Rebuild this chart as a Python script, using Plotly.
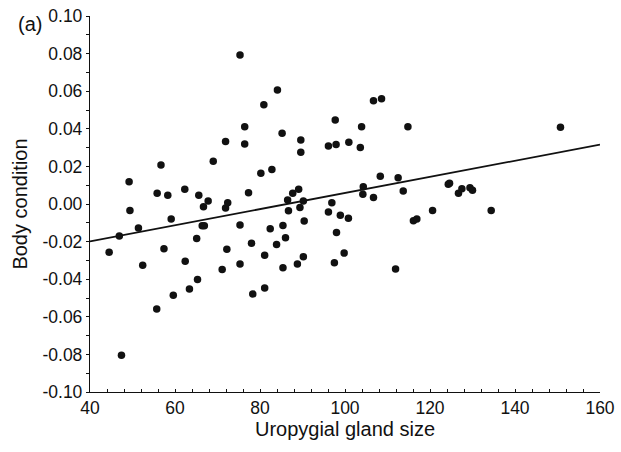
import plotly.graph_objects as go

gland_size = [49.2, 49.4, 51.4, 56.7, 55.8, 58.3, 59.1, 62.3, 65.6, 66.7, 67.8, 66.4, 66.9,
              69.0, 71.9, 71.9, 72.4, 75.3, 76.4, 76.4, 77.3, 75.3, 80.2, 80.9, 82.8, 82.4,
              84.1, 85.2, 85.4, 86.5, 86.7, 87.7, 89.1, 89.6, 89.6, 89.4, 90.2, 90.4, 96.1,
              97.9, 97.7, 96.9, 96.1, 98.9, 44.5, 46.9, 47.4, 52.4, 55.7, 57.4, 59.6, 62.4,
              63.4, 65.1, 65.3, 71.1, 72.2, 75.3, 78.0, 78.3, 81.1, 81.1, 83.9, 86.0, 85.4,
              88.8, 90.2, 98.0, 97.5, 106.7, 108.6, 100.9, 103.9, 103.6, 114.8, 150.7, 108.3,
              112.5, 104.3, 104.2, 106.7, 113.7, 124.3, 124.6, 126.7, 127.5, 129.4, 130.0,
              120.6, 134.4, 116.1, 116.9, 100.8, 99.8, 111.9]
body_condition = [0.0119, -0.0034, -0.0128, 0.0207, 0.0057, 0.0046, -0.0080, 0.0078, 0.0046,
                  -0.0014, 0.0016, -0.0116, -0.0116, 0.0227, 0.0333, -0.0021, 0.0007, 0.0793,
                  0.0411, 0.0319, 0.0060, -0.0112, 0.0163, 0.0528, 0.0183, -0.0131, 0.0606,
                  0.0376, -0.0115, 0.0021, -0.0036, 0.0057, 0.0078, 0.0340, 0.0275, -0.0018,
                  0.0016, -0.0090, 0.0309, 0.0316, 0.0447, 0.0007, -0.0043, -0.0060, -0.0257,
                  -0.0170, -0.0805, -0.0326, -0.0559, -0.0238, -0.0486, -0.0305, -0.0452,
                  -0.0184, -0.0402, -0.0349, -0.0241, -0.0319, -0.0209, -0.0479, -0.0273,
                  -0.0447, -0.0216, -0.0179, -0.0339, -0.0319, -0.0280, -0.0151, -0.0312,
                  0.0549, 0.0560, 0.0328, 0.0411, 0.0301, 0.0411, 0.0408, 0.0147, 0.0140,
                  0.0092, 0.0052, 0.0034, 0.0069, 0.0105, 0.0110, 0.0057, 0.0081, 0.0087,
                  0.0073, -0.0034, -0.0034, -0.0089, -0.0080, -0.0076, -0.0261, -0.0346]

fit_x = [40, 160]
fit_y = [-0.0199, 0.0316]

x_ticks = [40, 60, 80, 100, 120, 140, 160]
y_ticks = [0.10, 0.08, 0.06, 0.04, 0.02, 0.00, -0.02, -0.04, -0.06, -0.08, -0.10]
y_tick_text = ["0.10", "0.08", "0.06", "0.04", "0.02", "0.00", "-0.02", "-0.04", "-0.06", "-0.08", "-0.10"]

ink = "#111"
fig = go.Figure()
fig.add_trace(go.Scatter(x=fit_x, y=fit_y, mode="lines",
                         line=dict(color=ink, width=1.8), showlegend=False))
fig.add_trace(go.Scatter(x=gland_size, y=body_condition, mode="markers",
                         marker=dict(color=ink, size=7.5), showlegend=False))

font_family = "Liberation Sans, Arial, sans-serif"
fig.update_layout(
    width=621, height=452,
    margin=dict(l=90, r=21, t=16, b=60),
    plot_bgcolor="white", paper_bgcolor="white",
    font=dict(family=font_family, color=ink, size=17),
    xaxis=dict(range=[40, 160], tickvals=x_ticks, ticks="inside", ticklen=3,
               tickcolor=ink, showline=True, linecolor=ink, linewidth=1.3,
               showgrid=False, zeroline=False, ticklabeloverflow="allow",
               automargin=False,
               minor=dict(dtick=4, tick0=40, ticks="inside", ticklen=3, tickcolor=ink),
               title=dict(text="Uropygial gland size", font=dict(size=20), standoff=4),
               tickfont=dict(size=17.5)),
    yaxis=dict(range=[-0.10, 0.10], tickvals=y_ticks, ticktext=y_tick_text,
               ticks="outside", ticklen=3, tickcolor=ink,
               showline=True, linecolor=ink, linewidth=1.3,
               showgrid=False, zeroline=False, ticklabeloverflow="allow",
               automargin=False,
               minor=dict(dtick=0.01, tick0=0, ticks="outside", ticklen=3, tickcolor=ink),
               title=dict(text="Body condition", font=dict(size=20), standoff=9),
               tickfont=dict(size=17.5)),
    annotations=[dict(text="(a)", xref="paper", yref="paper", x=-0.145, y=0.98,
                      xanchor="left", yanchor="middle", showarrow=False,
                      font=dict(size=20, family=font_family, color=ink))],
)

fig.write_html("out.html",
               config={"displayModeBar": False},
               post_script="document.body.style.margin='0';"
                           "document.documentElement.style.overflow='hidden';")
